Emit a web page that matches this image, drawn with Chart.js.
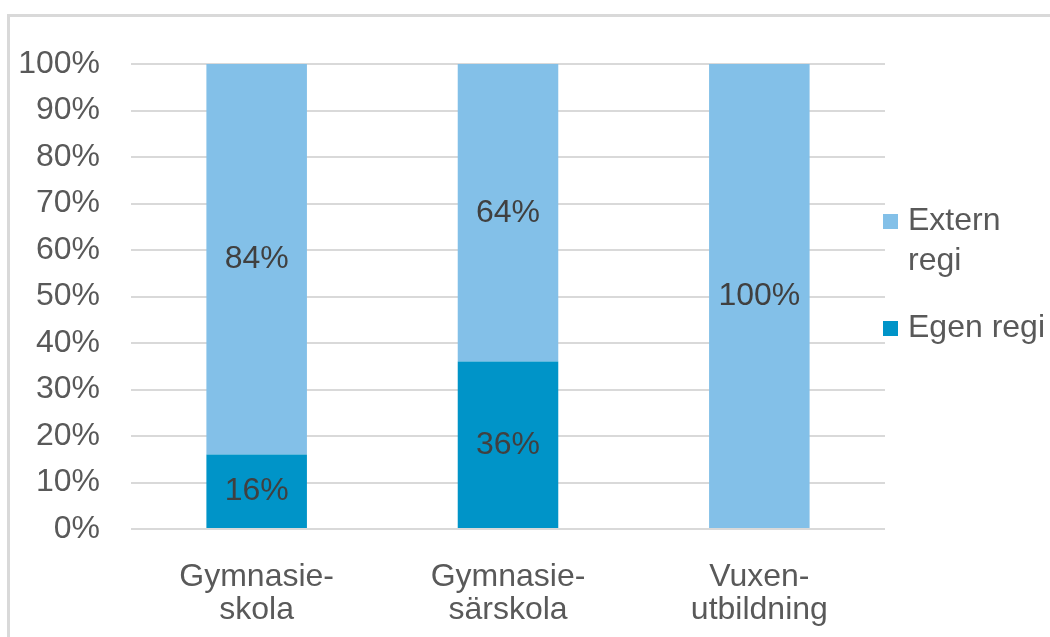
<!DOCTYPE html>
<html>
<head>
<meta charset="utf-8">
<script src="https://cdn.jsdelivr.net/npm/chart.js@4/dist/chart.umd.min.js"></script>
<style>
  html, body { margin: 0; padding: 0; background: #fff; overflow: hidden; }
  #wrap { position: relative; width: 1050px; height: 637px; }
  #frame { position: absolute; left: 7px; top: 14px; width: 1100px; height: 700px;
           border: 3px solid #d9d9d9; box-sizing: border-box; }
  canvas { position: absolute; left: 0; top: 0; }
</style>
</head>
<body>
<div id="wrap">
  <div id="frame"></div>
  <canvas id="myChart" width="1050" height="637"></canvas>
</div>
<script>
const categories = [['Gymnasie-', 'skola'], ['Gymnasie-', 'särskola'], ['Vuxen-', 'utbildning']];
const egenRegi = [16, 36, 0];
const externRegi = [84, 64, 100];
const legendLabels = [['Extern', 'regi'], ['Egen regi']];

const textColor = '#595959';
const fontFamily = '"Liberation Sans", Arial, sans-serif';
const fontSize = 32;

// draws the value in the middle of each bar segment
const barLabels = {
  id: 'barLabels',
  afterDatasetsDraw(chart) {
    const ctx = chart.ctx;
    ctx.save();
    ctx.font = fontSize + 'px ' + fontFamily;
    ctx.fillStyle = '#404040';
    ctx.textAlign = 'center';
    ctx.textBaseline = 'middle';
    chart.data.datasets.forEach((ds, i) => {
      chart.getDatasetMeta(i).data.forEach((bar, j) => {
        const v = ds.data[j];
        if (!v) return;
        const p = bar.getProps(['x', 'y', 'base'], true);
        ctx.fillText(v + '%', p.x, (p.y + p.base) / 2);
      });
    });
    ctx.restore();
  }
};

// legend on the right, with wrapped text like the original
const sideLegend = {
  id: 'sideLegend',
  afterDraw(chart) {
    const ctx = chart.ctx;
    const x = chart.chartArea.right - 2;
    const rows = [
      { color: chart.data.datasets[1].backgroundColor, lines: legendLabels[0], y: 221 },
      { color: chart.data.datasets[0].backgroundColor, lines: legendLabels[1], y: 328 }
    ];
    ctx.save();
    ctx.font = fontSize + 'px ' + fontFamily;
    ctx.textBaseline = 'middle';
    ctx.textAlign = 'left';
    rows.forEach(r => {
      ctx.fillStyle = r.color;
      ctx.fillRect(x, r.y - 7, 15, 15);
      ctx.fillStyle = textColor;
      r.lines.forEach((t, k) => ctx.fillText(t, x + 25, r.y + k * 40));
    });
    ctx.restore();
  }
};

new Chart(document.getElementById('myChart'), {
  type: 'bar',
  data: {
    labels: categories,
    datasets: [
      { label: 'Egen regi', data: egenRegi, backgroundColor: '#0094c8',
        barPercentage: 0.4, categoryPercentage: 1 },
      { label: 'Extern regi', data: externRegi, backgroundColor: '#83c0e8',
        barPercentage: 0.4, categoryPercentage: 1 }
    ]
  },
  options: {
    responsive: false,
    animation: false,
    layout: { padding: { left: 8, top: 64, right: 165, bottom: 0 } },
    plugins: { legend: { display: false }, tooltip: { enabled: false } },
    scales: {
      x: {
        stacked: true,
        grid: { display: false, drawTicks: false },
        border: { display: false },
        ticks: { color: textColor, padding: 31, maxRotation: 0, autoSkip: false,
                 font: { family: fontFamily, size: fontSize, lineHeight: 1.05 } },
        afterFit: s => { s.height = 108; }
      },
      y: {
        stacked: true,
        min: 0,
        max: 100,
        grid: { color: '#d9d9d9', lineWidth: 2, drawTicks: false },
        border: { display: false },
        ticks: { stepSize: 10, color: textColor, padding: 31,
                 font: { family: fontFamily, size: fontSize },
                 callback: v => v + '%' },
        afterFit: s => { s.width = 123; }
      }
    }
  },
  plugins: [barLabels, sideLegend]
});
</script>
</body>
</html>
